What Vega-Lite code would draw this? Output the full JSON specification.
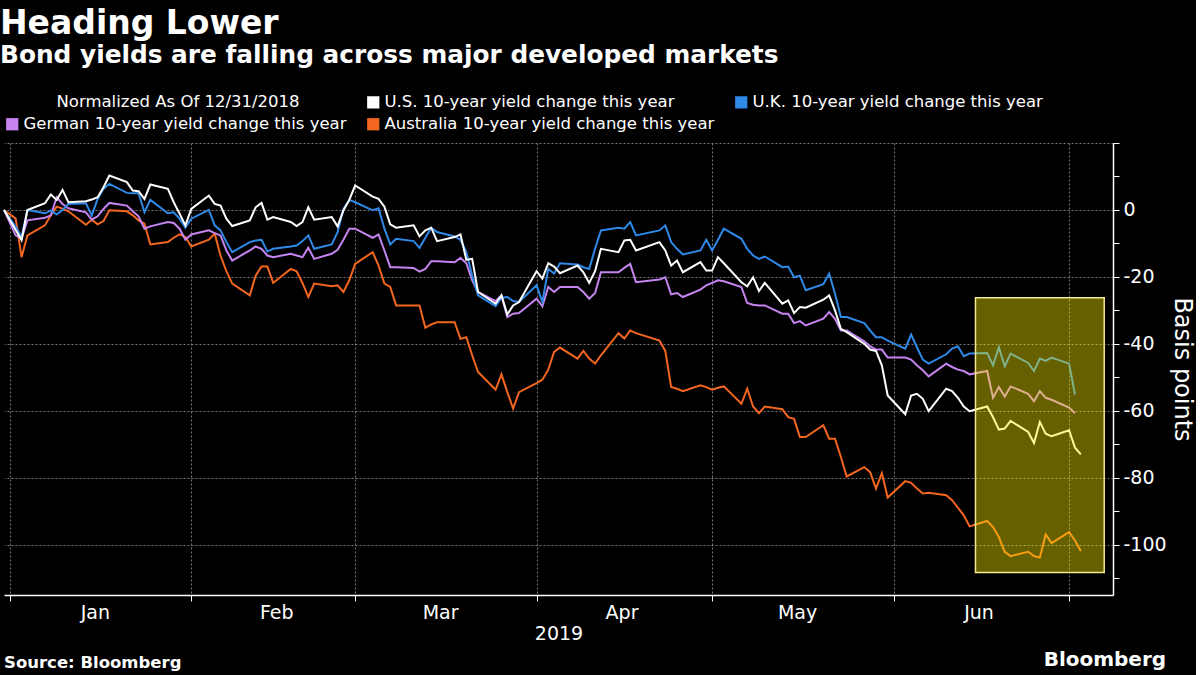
{
  "$schema": "https://vega.github.io/schema/vega-lite/v6.json",
  "background": "#000000",
  "padding": {"left": 0, "top": 8, "right": 2, "bottom": 4},
  "title": {
    "text": "Heading Lower",
    "subtitle": "Bond yields are falling across major developed markets",
    "anchor": "start",
    "font": "DejaVu Sans", "fontSize": 33, "fontWeight": "bold", "color": "#ffffff",
    "subtitleFont": "DejaVu Sans", "subtitleFontSize": 24.8, "subtitleFontWeight": "bold", "subtitleColor": "#ffffff",
    "subtitlePadding": 2, "offset": 26
  },
  "datasets": {
    "box": [{"start": "2019-06-15", "end": "2019-07-07", "lo": -108.3, "hi": -26.2}],
    "yields": [
      {"date":"2018-12-31","series":"AU","bp":0},{"date":"2019-01-02","series":"AU","bp":-2.6},{"date":"2019-01-03","series":"AU","bp":-14.1},{"date":"2019-01-04","series":"AU","bp":-7.6},{"date":"2019-01-07","series":"AU","bp":-4.6},{"date":"2019-01-08","series":"AU","bp":-1.6},{"date":"2019-01-09","series":"AU","bp":1},{"date":"2019-01-10","series":"AU","bp":0.4},{"date":"2019-01-11","series":"AU","bp":-0.4},{"date":"2019-01-14","series":"AU","bp":-4.4},{"date":"2019-01-15","series":"AU","bp":-2.9},{"date":"2019-01-16","series":"AU","bp":-4.3},{"date":"2019-01-17","series":"AU","bp":-3.3},{"date":"2019-01-18","series":"AU","bp":-0.1},{"date":"2019-01-21","series":"AU","bp":-0.4},{"date":"2019-01-22","series":"AU","bp":-1.6},{"date":"2019-01-23","series":"AU","bp":-3.1},{"date":"2019-01-24","series":"AU","bp":-4.1},{"date":"2019-01-25","series":"AU","bp":-10.3},{"date":"2019-01-28","series":"AU","bp":-9.6},{"date":"2019-01-29","series":"AU","bp":-8.3},{"date":"2019-01-30","series":"AU","bp":-7.3},{"date":"2019-01-31","series":"AU","bp":-8.1},
      {"date":"2019-02-01","series":"AU","bp":-10.9},{"date":"2019-02-04","series":"AU","bp":-8.9},{"date":"2019-02-05","series":"AU","bp":-7.1},{"date":"2019-02-06","series":"AU","bp":-13.6},{"date":"2019-02-07","series":"AU","bp":-18.3},{"date":"2019-02-08","series":"AU","bp":-22},{"date":"2019-02-11","series":"AU","bp":-25.5},{"date":"2019-02-12","series":"AU","bp":-19.6},{"date":"2019-02-13","series":"AU","bp":-16.9},{"date":"2019-02-14","series":"AU","bp":-16.9},{"date":"2019-02-15","series":"AU","bp":-21.8},{"date":"2019-02-18","series":"AU","bp":-17.6},{"date":"2019-02-19","series":"AU","bp":-18.3},{"date":"2019-02-20","series":"AU","bp":-21.8},{"date":"2019-02-21","series":"AU","bp":-26},{"date":"2019-02-22","series":"AU","bp":-22},{"date":"2019-02-25","series":"AU","bp":-22.8},{"date":"2019-02-26","series":"AU","bp":-22.5},{"date":"2019-02-27","series":"AU","bp":-24.5},{"date":"2019-02-28","series":"AU","bp":-21},
      {"date":"2019-03-01","series":"AU","bp":-16.1},{"date":"2019-03-04","series":"AU","bp":-12.6},{"date":"2019-03-05","series":"AU","bp":-16.6},{"date":"2019-03-06","series":"AU","bp":-22},{"date":"2019-03-07","series":"AU","bp":-23},{"date":"2019-03-08","series":"AU","bp":-28.5},{"date":"2019-03-11","series":"AU","bp":-28.5},{"date":"2019-03-12","series":"AU","bp":-28.5},{"date":"2019-03-13","series":"AU","bp":-35.2},{"date":"2019-03-14","series":"AU","bp":-34.2},{"date":"2019-03-15","series":"AU","bp":-33.5},{"date":"2019-03-18","series":"AU","bp":-33.5},{"date":"2019-03-19","series":"AU","bp":-38.5},{"date":"2019-03-20","series":"AU","bp":-38},{"date":"2019-03-21","series":"AU","bp":-43.4},{"date":"2019-03-22","series":"AU","bp":-48.4},{"date":"2019-03-25","series":"AU","bp":-53.7},{"date":"2019-03-26","series":"AU","bp":-49.1},{"date":"2019-03-27","series":"AU","bp":-54.4},{"date":"2019-03-28","series":"AU","bp":-59.3},{"date":"2019-03-29","series":"AU","bp":-54.4},
      {"date":"2019-04-01","series":"AU","bp":-51.7},{"date":"2019-04-02","series":"AU","bp":-50.7},{"date":"2019-04-03","series":"AU","bp":-47.7},{"date":"2019-04-04","series":"AU","bp":-42.4},{"date":"2019-04-05","series":"AU","bp":-41.1},{"date":"2019-04-08","series":"AU","bp":-44.4},{"date":"2019-04-09","series":"AU","bp":-42.1},{"date":"2019-04-10","series":"AU","bp":-44.4},{"date":"2019-04-11","series":"AU","bp":-45.9},{"date":"2019-04-12","series":"AU","bp":-43.4},{"date":"2019-04-15","series":"AU","bp":-36.8},{"date":"2019-04-16","series":"AU","bp":-38.4},{"date":"2019-04-17","series":"AU","bp":-36},{"date":"2019-04-18","series":"AU","bp":-36.8},{"date":"2019-04-22","series":"AU","bp":-39},{"date":"2019-04-23","series":"AU","bp":-42.1},{"date":"2019-04-24","series":"AU","bp":-52.9},{"date":"2019-04-25","series":"AU","bp":-53.4},{"date":"2019-04-26","series":"AU","bp":-54.1},{"date":"2019-04-29","series":"AU","bp":-52.4},{"date":"2019-04-30","series":"AU","bp":-52.9},
      {"date":"2019-05-01","series":"AU","bp":-53.7},{"date":"2019-05-02","series":"AU","bp":-53.1},{"date":"2019-05-03","series":"AU","bp":-52.7},{"date":"2019-05-06","series":"AU","bp":-57.9},{"date":"2019-05-07","series":"AU","bp":-53.4},{"date":"2019-05-08","series":"AU","bp":-58.7},{"date":"2019-05-09","series":"AU","bp":-60.7},{"date":"2019-05-10","series":"AU","bp":-58.7},{"date":"2019-05-13","series":"AU","bp":-59.5},{"date":"2019-05-14","series":"AU","bp":-61.9},{"date":"2019-05-15","series":"AU","bp":-62.4},{"date":"2019-05-16","series":"AU","bp":-67.8},{"date":"2019-05-17","series":"AU","bp":-67.8},{"date":"2019-05-20","series":"AU","bp":-64.3},{"date":"2019-05-21","series":"AU","bp":-68.3},{"date":"2019-05-22","series":"AU","bp":-68.3},{"date":"2019-05-23","series":"AU","bp":-73.8},{"date":"2019-05-24","series":"AU","bp":-79.6},{"date":"2019-05-27","series":"AU","bp":-76.8},{"date":"2019-05-28","series":"AU","bp":-78.3},{"date":"2019-05-29","series":"AU","bp":-83.2},{"date":"2019-05-30","series":"AU","bp":-78.6},{"date":"2019-05-31","series":"AU","bp":-85.9},
      {"date":"2019-06-03","series":"AU","bp":-81},{"date":"2019-06-04","series":"AU","bp":-81.5},{"date":"2019-06-05","series":"AU","bp":-83.2},{"date":"2019-06-06","series":"AU","bp":-84.7},{"date":"2019-06-07","series":"AU","bp":-84.5},{"date":"2019-06-10","series":"AU","bp":-85.2},{"date":"2019-06-11","series":"AU","bp":-86.7},{"date":"2019-06-12","series":"AU","bp":-88.9},{"date":"2019-06-13","series":"AU","bp":-91.2},{"date":"2019-06-14","series":"AU","bp":-94.5},{"date":"2019-06-17","series":"AU","bp":-92.9},{"date":"2019-06-18","series":"AU","bp":-94.7},{"date":"2019-06-19","series":"AU","bp":-97.7},{"date":"2019-06-20","series":"AU","bp":-102.1},{"date":"2019-06-21","series":"AU","bp":-103.4},{"date":"2019-06-24","series":"AU","bp":-102.1},{"date":"2019-06-25","series":"AU","bp":-103.4},{"date":"2019-06-26","series":"AU","bp":-103.8},{"date":"2019-06-27","series":"AU","bp":-96.9},{"date":"2019-06-28","series":"AU","bp":-99.5},{"date":"2019-07-01","series":"AU","bp":-96.2},{"date":"2019-07-02","series":"AU","bp":-98.7},{"date":"2019-07-03","series":"AU","bp":-101.9},

      {"date":"2018-12-31","series":"DE","bp":0},{"date":"2019-01-02","series":"DE","bp":-7.6},{"date":"2019-01-03","series":"DE","bp":-8.6},{"date":"2019-01-04","series":"DE","bp":-3.1},{"date":"2019-01-07","series":"DE","bp":-2.3},{"date":"2019-01-08","series":"DE","bp":-1.6},{"date":"2019-01-09","series":"DE","bp":3.8},{"date":"2019-01-10","series":"DE","bp":1.8},{"date":"2019-01-11","series":"DE","bp":0.5},{"date":"2019-01-14","series":"DE","bp":-0.7},{"date":"2019-01-15","series":"DE","bp":-2.9},{"date":"2019-01-16","series":"DE","bp":-1.9},{"date":"2019-01-17","series":"DE","bp":0.3},{"date":"2019-01-18","series":"DE","bp":2.1},{"date":"2019-01-21","series":"DE","bp":1.3},{"date":"2019-01-22","series":"DE","bp":-0.4},{"date":"2019-01-23","series":"DE","bp":-1.9},{"date":"2019-01-24","series":"DE","bp":-5.6},{"date":"2019-01-25","series":"DE","bp":-4.9},{"date":"2019-01-28","series":"DE","bp":-3.6},{"date":"2019-01-29","series":"DE","bp":-3.9},{"date":"2019-01-30","series":"DE","bp":-5.6},{"date":"2019-01-31","series":"DE","bp":-8.9},
      {"date":"2019-02-01","series":"DE","bp":-7.3},{"date":"2019-02-04","series":"DE","bp":-6.1},{"date":"2019-02-05","series":"DE","bp":-6.9},{"date":"2019-02-06","series":"DE","bp":-7.6},{"date":"2019-02-07","series":"DE","bp":-12.1},{"date":"2019-02-08","series":"DE","bp":-15.1},{"date":"2019-02-11","series":"DE","bp":-12.1},{"date":"2019-02-12","series":"DE","bp":-10.9},{"date":"2019-02-13","series":"DE","bp":-11.6},{"date":"2019-02-14","series":"DE","bp":-13.6},{"date":"2019-02-15","series":"DE","bp":-14.1},{"date":"2019-02-18","series":"DE","bp":-13.1},{"date":"2019-02-19","series":"DE","bp":-13.6},{"date":"2019-02-20","series":"DE","bp":-14.1},{"date":"2019-02-21","series":"DE","bp":-11.3},{"date":"2019-02-22","series":"DE","bp":-14.6},{"date":"2019-02-25","series":"DE","bp":-13.1},{"date":"2019-02-26","series":"DE","bp":-11.9},{"date":"2019-02-27","series":"DE","bp":-8.9},{"date":"2019-02-28","series":"DE","bp":-5.6},
      {"date":"2019-03-01","series":"DE","bp":-5.6},{"date":"2019-03-04","series":"DE","bp":-8.3},{"date":"2019-03-05","series":"DE","bp":-7.3},{"date":"2019-03-06","series":"DE","bp":-12.1},{"date":"2019-03-07","series":"DE","bp":-17.1},{"date":"2019-03-08","series":"DE","bp":-17.1},{"date":"2019-03-11","series":"DE","bp":-17.3},{"date":"2019-03-12","series":"DE","bp":-18.4},{"date":"2019-03-13","series":"DE","bp":-17.6},{"date":"2019-03-14","series":"DE","bp":-15.3},{"date":"2019-03-15","series":"DE","bp":-15.3},{"date":"2019-03-18","series":"DE","bp":-15.6},{"date":"2019-03-19","series":"DE","bp":-14.3},{"date":"2019-03-20","series":"DE","bp":-15.9},{"date":"2019-03-21","series":"DE","bp":-21},{"date":"2019-03-22","series":"DE","bp":-24.5},{"date":"2019-03-25","series":"DE","bp":-27.2},{"date":"2019-03-26","series":"DE","bp":-25.5},{"date":"2019-03-27","series":"DE","bp":-32},{"date":"2019-03-28","series":"DE","bp":-31},{"date":"2019-03-29","series":"DE","bp":-30.8},
      {"date":"2019-04-01","series":"DE","bp":-26.5},{"date":"2019-04-02","series":"DE","bp":-28.8},{"date":"2019-04-03","series":"DE","bp":-23},{"date":"2019-04-04","series":"DE","bp":-24.5},{"date":"2019-04-05","series":"DE","bp":-23},{"date":"2019-04-08","series":"DE","bp":-23},{"date":"2019-04-09","series":"DE","bp":-24.5},{"date":"2019-04-10","series":"DE","bp":-26.5},{"date":"2019-04-11","series":"DE","bp":-24.8},{"date":"2019-04-12","series":"DE","bp":-18.6},{"date":"2019-04-15","series":"DE","bp":-18.6},{"date":"2019-04-16","series":"DE","bp":-17.3},{"date":"2019-04-17","series":"DE","bp":-16.1},{"date":"2019-04-18","series":"DE","bp":-21.6},{"date":"2019-04-22","series":"DE","bp":-20.8},{"date":"2019-04-23","series":"DE","bp":-20.1},{"date":"2019-04-24","series":"DE","bp":-25.2},{"date":"2019-04-25","series":"DE","bp":-24.8},{"date":"2019-04-26","series":"DE","bp":-26},{"date":"2019-04-29","series":"DE","bp":-23.8},{"date":"2019-04-30","series":"DE","bp":-22.5},
      {"date":"2019-05-01","series":"DE","bp":-21.8},{"date":"2019-05-02","series":"DE","bp":-21},{"date":"2019-05-03","series":"DE","bp":-21.3},{"date":"2019-05-06","series":"DE","bp":-23},{"date":"2019-05-07","series":"DE","bp":-27.8},{"date":"2019-05-08","series":"DE","bp":-28.3},{"date":"2019-05-09","series":"DE","bp":-28.5},{"date":"2019-05-10","series":"DE","bp":-28.5},{"date":"2019-05-13","series":"DE","bp":-31},{"date":"2019-05-14","series":"DE","bp":-31},{"date":"2019-05-15","series":"DE","bp":-33.8},{"date":"2019-05-16","series":"DE","bp":-33.2},{"date":"2019-05-17","series":"DE","bp":-34.5},{"date":"2019-05-20","series":"DE","bp":-32.5},{"date":"2019-05-21","series":"DE","bp":-30.5},{"date":"2019-05-22","series":"DE","bp":-32.5},{"date":"2019-05-23","series":"DE","bp":-36},{"date":"2019-05-24","series":"DE","bp":-36},{"date":"2019-05-27","series":"DE","bp":-39.2},{"date":"2019-05-28","series":"DE","bp":-40.7},{"date":"2019-05-29","series":"DE","bp":-41.7},{"date":"2019-05-30","series":"DE","bp":-41.7},{"date":"2019-05-31","series":"DE","bp":-44.1},
      {"date":"2019-06-03","series":"DE","bp":-44.1},{"date":"2019-06-04","series":"DE","bp":-44.7},{"date":"2019-06-05","series":"DE","bp":-46.4},{"date":"2019-06-06","series":"DE","bp":-47.9},{"date":"2019-06-07","series":"DE","bp":-49.7},{"date":"2019-06-10","series":"DE","bp":-45.9},{"date":"2019-06-11","series":"DE","bp":-46.9},{"date":"2019-06-12","series":"DE","bp":-47.7},{"date":"2019-06-13","series":"DE","bp":-48.1},{"date":"2019-06-14","series":"DE","bp":-49.1},{"date":"2019-06-17","series":"DE","bp":-48.1},{"date":"2019-06-18","series":"DE","bp":-56.1},{"date":"2019-06-19","series":"DE","bp":-52.9},{"date":"2019-06-20","series":"DE","bp":-55.7},{"date":"2019-06-21","series":"DE","bp":-52.7},{"date":"2019-06-24","series":"DE","bp":-54.9},{"date":"2019-06-25","series":"DE","bp":-57.1},{"date":"2019-06-26","series":"DE","bp":-54.1},{"date":"2019-06-27","series":"DE","bp":-56.1},{"date":"2019-06-28","series":"DE","bp":-56.7},{"date":"2019-07-01","series":"DE","bp":-59},{"date":"2019-07-02","series":"DE","bp":-60.7},

      {"date":"2018-12-31","series":"UK","bp":0},{"date":"2019-01-02","series":"UK","bp":-5},{"date":"2019-01-03","series":"UK","bp":-8.1},{"date":"2019-01-04","series":"UK","bp":0},{"date":"2019-01-07","series":"UK","bp":-1},{"date":"2019-01-08","series":"UK","bp":-0.2},{"date":"2019-01-09","series":"UK","bp":-1.3},{"date":"2019-01-10","series":"UK","bp":0},{"date":"2019-01-11","series":"UK","bp":1.8},{"date":"2019-01-14","series":"UK","bp":2},{"date":"2019-01-15","series":"UK","bp":-1.6},{"date":"2019-01-16","series":"UK","bp":3.3},{"date":"2019-01-17","series":"UK","bp":6.3},{"date":"2019-01-18","series":"UK","bp":7.8},{"date":"2019-01-21","series":"UK","bp":5.1},{"date":"2019-01-22","series":"UK","bp":5},{"date":"2019-01-23","series":"UK","bp":5},{"date":"2019-01-24","series":"UK","bp":-0.7},{"date":"2019-01-25","series":"UK","bp":3},{"date":"2019-01-28","series":"UK","bp":-1},{"date":"2019-01-29","series":"UK","bp":-0.7},{"date":"2019-01-30","series":"UK","bp":-2.6},{"date":"2019-01-31","series":"UK","bp":-5.3},
      {"date":"2019-02-01","series":"UK","bp":-2.6},{"date":"2019-02-04","series":"UK","bp":0},{"date":"2019-02-05","series":"UK","bp":-4.6},{"date":"2019-02-06","series":"UK","bp":-6.1},{"date":"2019-02-07","series":"UK","bp":-9.6},{"date":"2019-02-08","series":"UK","bp":-12.6},{"date":"2019-02-11","series":"UK","bp":-9.6},{"date":"2019-02-12","series":"UK","bp":-9.1},{"date":"2019-02-13","series":"UK","bp":-8.9},{"date":"2019-02-14","series":"UK","bp":-12.4},{"date":"2019-02-15","series":"UK","bp":-11.6},{"date":"2019-02-18","series":"UK","bp":-10.9},{"date":"2019-02-19","series":"UK","bp":-10.6},{"date":"2019-02-20","series":"UK","bp":-9.3},{"date":"2019-02-21","series":"UK","bp":-7.6},{"date":"2019-02-22","series":"UK","bp":-11.6},{"date":"2019-02-25","series":"UK","bp":-10.3},{"date":"2019-02-26","series":"UK","bp":-6.6},{"date":"2019-02-27","series":"UK","bp":0.3},{"date":"2019-02-28","series":"UK","bp":3},
      {"date":"2019-03-01","series":"UK","bp":2.3},{"date":"2019-03-04","series":"UK","bp":-0.1},{"date":"2019-03-05","series":"UK","bp":0.5},{"date":"2019-03-06","series":"UK","bp":-5.6},{"date":"2019-03-07","series":"UK","bp":-10.3},{"date":"2019-03-08","series":"UK","bp":-8.6},{"date":"2019-03-11","series":"UK","bp":-9.3},{"date":"2019-03-12","series":"UK","bp":-11.3},{"date":"2019-03-13","series":"UK","bp":-8.3},{"date":"2019-03-14","series":"UK","bp":-5.3},{"date":"2019-03-15","series":"UK","bp":-6.6},{"date":"2019-03-18","series":"UK","bp":-7.9},{"date":"2019-03-19","series":"UK","bp":-8.9},{"date":"2019-03-20","series":"UK","bp":-12.6},{"date":"2019-03-21","series":"UK","bp":-19.6},{"date":"2019-03-22","series":"UK","bp":-25.5},{"date":"2019-03-25","series":"UK","bp":-28.7},{"date":"2019-03-26","series":"UK","bp":-26.2},{"date":"2019-03-27","series":"UK","bp":-26},{"date":"2019-03-28","series":"UK","bp":-27.2},{"date":"2019-03-29","series":"UK","bp":-27.5},
      {"date":"2019-04-01","series":"UK","bp":-22.5},{"date":"2019-04-02","series":"UK","bp":-27.5},{"date":"2019-04-03","series":"UK","bp":-17.6},{"date":"2019-04-04","series":"UK","bp":-19},{"date":"2019-04-05","series":"UK","bp":-15.9},{"date":"2019-04-08","series":"UK","bp":-16.3},{"date":"2019-04-09","series":"UK","bp":-17.1},{"date":"2019-04-10","series":"UK","bp":-17.6},{"date":"2019-04-11","series":"UK","bp":-11.6},{"date":"2019-04-12","series":"UK","bp":-6.1},{"date":"2019-04-15","series":"UK","bp":-5.3},{"date":"2019-04-16","series":"UK","bp":-5.6},{"date":"2019-04-17","series":"UK","bp":-3.6},{"date":"2019-04-18","series":"UK","bp":-7.6},{"date":"2019-04-22","series":"UK","bp":-6.1},{"date":"2019-04-23","series":"UK","bp":-4.6},{"date":"2019-04-24","series":"UK","bp":-9.6},{"date":"2019-04-25","series":"UK","bp":-11.6},{"date":"2019-04-26","series":"UK","bp":-13.3},{"date":"2019-04-29","series":"UK","bp":-12.1},{"date":"2019-04-30","series":"UK","bp":-8.9},
      {"date":"2019-05-01","series":"UK","bp":-12.1},{"date":"2019-05-02","series":"UK","bp":-8.9},{"date":"2019-05-03","series":"UK","bp":-5.6},{"date":"2019-05-06","series":"UK","bp":-8.6},{"date":"2019-05-07","series":"UK","bp":-11.6},{"date":"2019-05-08","series":"UK","bp":-13.6},{"date":"2019-05-09","series":"UK","bp":-14.6},{"date":"2019-05-10","series":"UK","bp":-13.9},{"date":"2019-05-13","series":"UK","bp":-17.1},{"date":"2019-05-14","series":"UK","bp":-16.9},{"date":"2019-05-15","series":"UK","bp":-20.1},{"date":"2019-05-16","series":"UK","bp":-19.6},{"date":"2019-05-17","series":"UK","bp":-24},{"date":"2019-05-20","series":"UK","bp":-22.2},{"date":"2019-05-21","series":"UK","bp":-19},{"date":"2019-05-22","series":"UK","bp":-25},{"date":"2019-05-23","series":"UK","bp":-32},{"date":"2019-05-24","series":"UK","bp":-32},{"date":"2019-05-27","series":"UK","bp":-33.8},{"date":"2019-05-28","series":"UK","bp":-36},{"date":"2019-05-29","series":"UK","bp":-38},{"date":"2019-05-30","series":"UK","bp":-38},{"date":"2019-05-31","series":"UK","bp":-39},
      {"date":"2019-06-03","series":"UK","bp":-41.4},{"date":"2019-06-04","series":"UK","bp":-37.2},{"date":"2019-06-05","series":"UK","bp":-41},{"date":"2019-06-06","series":"UK","bp":-44.7},{"date":"2019-06-07","series":"UK","bp":-45.9},{"date":"2019-06-10","series":"UK","bp":-43.1},{"date":"2019-06-11","series":"UK","bp":-41.4},{"date":"2019-06-12","series":"UK","bp":-40.7},{"date":"2019-06-13","series":"UK","bp":-43.7},{"date":"2019-06-14","series":"UK","bp":-42.9},{"date":"2019-06-17","series":"UK","bp":-42.7},{"date":"2019-06-18","series":"UK","bp":-46.4},{"date":"2019-06-19","series":"UK","bp":-41},{"date":"2019-06-20","series":"UK","bp":-46.7},{"date":"2019-06-21","series":"UK","bp":-42.9},{"date":"2019-06-24","series":"UK","bp":-45.7},{"date":"2019-06-25","series":"UK","bp":-48.1},{"date":"2019-06-26","series":"UK","bp":-44.4},{"date":"2019-06-27","series":"UK","bp":-45.1},{"date":"2019-06-28","series":"UK","bp":-44.1},{"date":"2019-07-01","series":"UK","bp":-45.9},{"date":"2019-07-02","series":"UK","bp":-55.1},

      {"date":"2018-12-31","series":"US","bp":0},{"date":"2019-01-02","series":"US","bp":-6},{"date":"2019-01-03","series":"US","bp":-9},{"date":"2019-01-04","series":"US","bp":0},{"date":"2019-01-07","series":"US","bp":2},{"date":"2019-01-08","series":"US","bp":4.6},{"date":"2019-01-09","series":"US","bp":3},{"date":"2019-01-10","series":"US","bp":6},{"date":"2019-01-11","series":"US","bp":2.3},{"date":"2019-01-14","series":"US","bp":2.6},{"date":"2019-01-15","series":"US","bp":3.1},{"date":"2019-01-16","series":"US","bp":3.8},{"date":"2019-01-17","series":"US","bp":6.8},{"date":"2019-01-18","series":"US","bp":10.3},{"date":"2019-01-21","series":"US","bp":8.3},{"date":"2019-01-22","series":"US","bp":5.8},{"date":"2019-01-23","series":"US","bp":5.6},{"date":"2019-01-24","series":"US","bp":3.3},{"date":"2019-01-25","series":"US","bp":7.6},{"date":"2019-01-28","series":"US","bp":6.3},{"date":"2019-01-29","series":"US","bp":2.3},{"date":"2019-01-30","series":"US","bp":-1.1},{"date":"2019-01-31","series":"US","bp":-4.6},
      {"date":"2019-02-01","series":"US","bp":0.3},{"date":"2019-02-04","series":"US","bp":4.3},{"date":"2019-02-05","series":"US","bp":1.8},{"date":"2019-02-06","series":"US","bp":1.3},{"date":"2019-02-07","series":"US","bp":-2.6},{"date":"2019-02-08","series":"US","bp":-4.8},{"date":"2019-02-11","series":"US","bp":-3.1},{"date":"2019-02-12","series":"US","bp":0.8},{"date":"2019-02-13","series":"US","bp":2.1},{"date":"2019-02-14","series":"US","bp":-2.9},{"date":"2019-02-15","series":"US","bp":-2.1},{"date":"2019-02-18","series":"US","bp":-3.6},{"date":"2019-02-19","series":"US","bp":-4.8},{"date":"2019-02-20","series":"US","bp":-3.6},{"date":"2019-02-21","series":"US","bp":0.8},{"date":"2019-02-22","series":"US","bp":-2.9},{"date":"2019-02-25","series":"US","bp":-2.1},{"date":"2019-02-26","series":"US","bp":-4.9},{"date":"2019-02-27","series":"US","bp":-0.1},{"date":"2019-02-28","series":"US","bp":3},
      {"date":"2019-03-01","series":"US","bp":7.3},{"date":"2019-03-04","series":"US","bp":4},{"date":"2019-03-05","series":"US","bp":3.3},{"date":"2019-03-06","series":"US","bp":1},{"date":"2019-03-07","series":"US","bp":-4.3},{"date":"2019-03-08","series":"US","bp":-5.3},{"date":"2019-03-11","series":"US","bp":-4.6},{"date":"2019-03-12","series":"US","bp":-7.9},{"date":"2019-03-13","series":"US","bp":-6.1},{"date":"2019-03-14","series":"US","bp":-5.3},{"date":"2019-03-15","series":"US","bp":-9.3},{"date":"2019-03-18","series":"US","bp":-8.1},{"date":"2019-03-19","series":"US","bp":-7.3},{"date":"2019-03-20","series":"US","bp":-14.9},{"date":"2019-03-21","series":"US","bp":-14.6},{"date":"2019-03-22","series":"US","bp":-24.5},{"date":"2019-03-25","series":"US","bp":-28},{"date":"2019-03-26","series":"US","bp":-25.5},{"date":"2019-03-27","series":"US","bp":-31.2},{"date":"2019-03-28","series":"US","bp":-28.5},{"date":"2019-03-29","series":"US","bp":-27.5},
      {"date":"2019-04-01","series":"US","bp":-18.3},{"date":"2019-04-02","series":"US","bp":-20.5},{"date":"2019-04-03","series":"US","bp":-15.9},{"date":"2019-04-04","series":"US","bp":-16.9},{"date":"2019-04-05","series":"US","bp":-18.9},{"date":"2019-04-08","series":"US","bp":-16.6},{"date":"2019-04-09","series":"US","bp":-18.6},{"date":"2019-04-10","series":"US","bp":-21.8},{"date":"2019-04-11","series":"US","bp":-18.3},{"date":"2019-04-12","series":"US","bp":-11.6},{"date":"2019-04-15","series":"US","bp":-12.6},{"date":"2019-04-16","series":"US","bp":-9.1},{"date":"2019-04-17","series":"US","bp":-8.9},{"date":"2019-04-18","series":"US","bp":-12.1},{"date":"2019-04-22","series":"US","bp":-9.6},{"date":"2019-04-23","series":"US","bp":-12.1},{"date":"2019-04-24","series":"US","bp":-16.6},{"date":"2019-04-25","series":"US","bp":-15.1},{"date":"2019-04-26","series":"US","bp":-18.6},{"date":"2019-04-29","series":"US","bp":-15.6},{"date":"2019-04-30","series":"US","bp":-18.1},
      {"date":"2019-05-01","series":"US","bp":-18.1},{"date":"2019-05-02","series":"US","bp":-14.1},{"date":"2019-05-03","series":"US","bp":-15.9},{"date":"2019-05-06","series":"US","bp":-21.6},{"date":"2019-05-07","series":"US","bp":-22.8},{"date":"2019-05-08","series":"US","bp":-20.1},{"date":"2019-05-09","series":"US","bp":-24.2},{"date":"2019-05-10","series":"US","bp":-21.8},{"date":"2019-05-13","series":"US","bp":-28},{"date":"2019-05-14","series":"US","bp":-27},{"date":"2019-05-15","series":"US","bp":-30.8},{"date":"2019-05-16","series":"US","bp":-29},{"date":"2019-05-17","series":"US","bp":-29.2},{"date":"2019-05-20","series":"US","bp":-26.8},{"date":"2019-05-21","series":"US","bp":-25.5},{"date":"2019-05-22","series":"US","bp":-30},{"date":"2019-05-23","series":"US","bp":-35.5},{"date":"2019-05-24","series":"US","bp":-36.5},{"date":"2019-05-27","series":"US","bp":-40},{"date":"2019-05-28","series":"US","bp":-41.7},{"date":"2019-05-29","series":"US","bp":-42.1},{"date":"2019-05-30","series":"US","bp":-46.4},{"date":"2019-05-31","series":"US","bp":-55.4},
      {"date":"2019-06-03","series":"US","bp":-61},{"date":"2019-06-04","series":"US","bp":-55.4},{"date":"2019-06-05","series":"US","bp":-54.9},{"date":"2019-06-06","series":"US","bp":-56.4},{"date":"2019-06-07","series":"US","bp":-60.1},{"date":"2019-06-10","series":"US","bp":-53.4},{"date":"2019-06-11","series":"US","bp":-54.1},{"date":"2019-06-12","series":"US","bp":-56.1},{"date":"2019-06-13","series":"US","bp":-58.7},{"date":"2019-06-14","series":"US","bp":-60.1},{"date":"2019-06-17","series":"US","bp":-58.7},{"date":"2019-06-18","series":"US","bp":-61.9},{"date":"2019-06-19","series":"US","bp":-65.6},{"date":"2019-06-20","series":"US","bp":-65.3},{"date":"2019-06-21","series":"US","bp":-63},{"date":"2019-06-24","series":"US","bp":-66.3},{"date":"2019-06-25","series":"US","bp":-69.6},{"date":"2019-06-26","series":"US","bp":-63.3},{"date":"2019-06-27","series":"US","bp":-66.8},{"date":"2019-06-28","series":"US","bp":-67.6},{"date":"2019-07-01","series":"US","bp":-65.8},{"date":"2019-07-02","series":"US","bp":-71},{"date":"2019-07-03","series":"US","bp":-73}
    ]
  },
  "vconcat": [
    {
      "title": {"text": "Bloomberg", "orient": "bottom", "anchor": "end", "frame": "bounds", "font": "DejaVu Sans", "fontSize": 20, "fontWeight": "bold", "color": "#ffffff", "offset": -22, "dx": -27},
      "vconcat": [
        {
          "width": 1109,
          "height": 452,
          "title": {"text": "Source: Bloomberg", "orient": "bottom", "anchor": "start", "frame": "group", "font": "DejaVu Sans", "fontSize": 16.5, "fontWeight": "bold", "color": "#ffffff", "offset": 12},
          "resolve": {"axis": {"y": "independent"}},
          "layer": [
            {
              "data": {"name": "yields"},
              "mark": {"type": "line", "strokeWidth": 2},
              "encoding": {
                "x": {
                  "field": "date", "type": "temporal", "title": "2019",
                  "scale": {"domain": ["2018-12-31", "2019-07-08T12:00:00"]},
                  "axis": {
                    "values": [
                      {"year": 2019, "month": 1, "date": 1}, {"year": 2019, "month": 2, "date": 1}, {"year": 2019, "month": 3, "date": 1},
                      {"year": 2019, "month": 4, "date": 1}, {"year": 2019, "month": 5, "date": 1}, {"year": 2019, "month": 6, "date": 1},
                      {"year": 2019, "month": 7, "date": 1}
                    ],
                    "labelExpr": "month(datum.value) == 6 ? '' : timeFormat(datum.value, '%b')",
                    "labelOffset": 85, "labelAlign": "center", "labelFont": "DejaVu Sans", "labelFontSize": 19, "labelColor": "#ffffff",
                    "labelPadding": 2, "labelOverlap": false, "labelFlush": false, "labelBound": false,
                    "domainColor": "#ffffff", "domainWidth": 1.5, "tickColor": "#ffffff", "tickSize": 6, "tickWidth": 1,
                    "grid": true, "gridColor": "#8c8c8c", "gridDash": [2, 2], "gridWidth": 1, "gridOpacity": 0.85,
                    "titleFont": "DejaVu Sans", "titleFontSize": 19, "titleFontWeight": "normal", "titleColor": "#ffffff", "titlePadding": 2
                  }
                },
                "y": {
                  "field": "bp", "type": "quantitative", "title": "Basis points",
                  "scale": {"domain": [-115, 20], "nice": false, "zero": false},
                  "axis": {
                    "orient": "right",
                    "values": [-100, -80, -60, -40, -20, 0, 20],
                    "labelExpr": "datum.value == 20 ? '' : '' + datum.value",
                    "labelOverlap": false, "labelFlush": false, "labelBound": false,
                    "labelFont": "DejaVu Sans", "labelFontSize": 19, "labelColor": "#ffffff", "labelPadding": 4, "labelAlign": "left", "labelBaseline": "middle",
                    "domainColor": "#ffffff", "domainWidth": 1.5, "tickColor": "#ffffff", "tickSize": 6, "tickWidth": 1,
                    "grid": true, "gridColor": "#8c8c8c", "gridDash": [2, 2], "gridWidth": 1, "gridOpacity": 0.85,
                    "titleFont": "DejaVu Sans", "titleFontSize": 24, "titleFontWeight": "normal", "titleColor": "#ffffff", "titlePadding": 3
                  }
                },
                "color": {
                  "field": "series", "type": "nominal",
                  "scale": {"domain": ["NOTE", "US", "UK", "DE", "AU"], "range": ["#000000", "#ffffff", "#2f89e6", "#c684f0", "#f2661f"]},
                  "legend": {
                    "orient": "top", "title": null, "columns": 3, "direction": "horizontal",
                    "symbolType": "square", "symbolSize": 150, "symbolStrokeWidth": 0,
                    "labelFont": "DejaVu Sans", "labelFontSize": 16.5, "labelColor": "#ffffff", "labelLimit": 600, "labelOffset": 3,
                    "columnPadding": 18, "rowPadding": 5, "offset": 1, "padding": 0,
                    "labelExpr": "datum.value == 'NOTE' ? 'Normalized As Of 12/31/2018' : datum.value == 'US' ? 'U.S. 10-year yield change this year' : datum.value == 'UK' ? 'U.K. 10-year yield change this year' : datum.value == 'DE' ? 'German 10-year yield change this year' : 'Australia 10-year yield change this year'",
                    "encode": {
                      "symbols": {"update": {"fill": {"scale": "color", "field": "value"}, "fillOpacity": {"value": 1}, "stroke": {"value": "transparent"}}},
                      "labels": {"update": {"dx": {"signal": "datum.value == 'NOTE' ? 33 : 0"}}}
                    }
                  }
                }
              }
            },
            {
              "data": {"name": "box"},
              "mark": {"type": "rect", "fill": "#fff000", "fillOpacity": 0.4, "stroke": "#f3e88c", "strokeWidth": 1.5, "strokeOpacity": 1},
              "encoding": {
                "x": {"field": "start", "type": "temporal", "title": "2019"},
                "x2": {"field": "end"},
                "y": {
                  "field": "lo", "type": "quantitative", "title": null,
                  "axis": {"orient": "right", "values": [-110, -90, -70, -50, -30, -10, 10], "labels": false, "grid": false, "domain": false, "title": null, "ticks": true, "tickSize": 6, "tickColor": "#ffffff", "tickWidth": 1}
                },
                "y2": {"field": "hi"}
              }
            }
          ]
        }
      ]
    }
  ],
  "config": {
    "view": {"stroke": null},
    "font": "DejaVu Sans"
  }
}
